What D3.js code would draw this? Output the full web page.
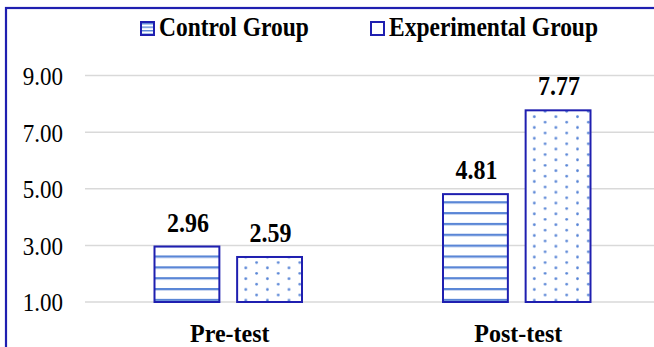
<!DOCTYPE html>
<html>
<head>
<meta charset="utf-8">
<script src="https://cdn.jsdelivr.net/npm/d3@7"></script>
<style>
  html, body { margin: 0; padding: 0; background: #fff; overflow: hidden; }
  svg { display: block; }
  text { font-family: "Liberation Serif", "Times New Roman", Times, serif; fill: #000; }
</style>
</head>
<body>
<svg id="chart" width="654" height="347"></svg>
<script>
// ---- data ----
const categories = ["Pre-test", "Post-test"];
const seriesNames = ["Control Group", "Experimental Group"];
const controlValues = [2.96, 4.81];
const experimentalValues = [2.59, 7.77];
const valueLabels = [["2.96", "2.59"], ["4.81", "7.77"]];
const yTicks = [1, 3, 5, 7, 9];
const yTickLabels = ["1.00", "3.00", "5.00", "7.00", "9.00"];

const svg = d3.select("#chart");
const BLUE = "#1f1fb0";
const FILL_BLUE = "#5a86d6";

// patterns
const defs = svg.append("defs");
const stripes = defs.append("pattern")
  .attr("id", "stripes").attr("patternUnits", "userSpaceOnUse")
  .attr("x", 0).attr("y", 5.9).attr("width", 20).attr("height", 10.85);
stripes.append("rect").attr("width", 20).attr("height", 10.85).attr("fill", "#fff");
stripes.append("rect").attr("y", 0).attr("width", 20).attr("height", 2.3).attr("fill", FILL_BLUE);

const dots = defs.append("pattern")
  .attr("id", "dots").attr("patternUnits", "userSpaceOnUse")
  .attr("x", 5.2).attr("y", 6).attr("width", 21.6).attr("height", 10.8);
dots.append("rect").attr("width", 21.6).attr("height", 10.8).attr("fill", "#fff");
dots.append("circle").attr("cx", 5.4).attr("cy", 2.7).attr("r", 1.35).attr("fill", FILL_BLUE);
dots.append("circle").attr("cx", 16.2).attr("cy", 8.1).attr("r", 1.35).attr("fill", FILL_BLUE);

const legStripes = defs.append("pattern")
  .attr("id", "legstripes").attr("patternUnits", "userSpaceOnUse")
  .attr("x", 0).attr("y", 1).attr("width", 10).attr("height", 3.5);
legStripes.append("rect").attr("width", 10).attr("height", 3.5).attr("fill", "#fff");
legStripes.append("rect").attr("y", 0).attr("width", 10).attr("height", 1.4).attr("fill", FILL_BLUE);

// frame (cropped on right/bottom)
svg.append("rect")
  .attr("x", 6).attr("y", 8).attr("width", 700).attr("height", 400)
  .attr("fill", "none").attr("stroke", BLUE).attr("stroke-width", 2.2);

// scales
const x0 = d3.scaleBand().domain(categories).range([84, 661]).padding(0);
const groupPad = 70.5;
const x1 = d3.scaleBand().domain(seriesNames)
  .range([groupPad, x0.bandwidth() - groupPad]).paddingInner(0.215);
const y = d3.scaleLinear().domain([1, 9]).range([302, 75.5]);

// gridlines
svg.append("g").selectAll("line").data(yTicks).join("line")
  .attr("x1", 85).attr("x2", 670)
  .attr("y1", d => y(d)).attr("y2", d => y(d))
  .attr("stroke", "#d9d9d9").attr("stroke-width", 1.5);

// y axis labels via d3 axis
const yAxis = d3.axisLeft(y).tickValues(yTicks)
  .tickFormat((d, i) => yTickLabels[i]).tickSize(0).tickPadding(0);
const yg = svg.append("g").attr("transform", "translate(63,0)").call(yAxis);
yg.select(".domain").remove();
yg.attr("font-family", null);
yg.selectAll("text")
  .attr("font-size", 23).attr("fill", "#000")
  .attr("dy", null).attr("dominant-baseline", "central")
  .attr("transform", "scale(1,1.1)");

// bars
const data = categories.map((c, i) => ({
  cat: c,
  vals: [
    { s: seriesNames[0], v: controlValues[i], lab: valueLabels[i][0], fill: "url(#stripes)" },
    { s: seriesNames[1], v: experimentalValues[i], lab: valueLabels[i][1], fill: "url(#dots)" }
  ]
}));

const groups = svg.append("g").selectAll("g").data(data).join("g")
  .attr("transform", d => `translate(${x0(d.cat)},0)`);

groups.selectAll("rect").data(d => d.vals).join("rect")
  .attr("x", d => x1(d.s))
  .attr("y", d => y(d.v))
  .attr("width", x1.bandwidth())
  .attr("height", d => y(1) - y(d.v))
  .attr("fill", d => d.fill)
  .attr("stroke", BLUE).attr("stroke-width", 2);

groups.selectAll("g.vlab").data(d => d.vals).join("g")
  .attr("class", "vlab")
  .attr("transform", d => `translate(${x1(d.s) + x1.bandwidth() / 2 + 1},${y(d.v) - 15}) scale(1,1.15)`)
  .append("text")
  .attr("text-anchor", "middle")
  .attr("font-size", 24).attr("font-weight", "bold")
  .text(d => d.lab);

// category labels
svg.append("g").selectAll("g").data(categories).join("g")
  .attr("transform", d => `translate(${x0(d) + x0.bandwidth() / 2 + 1.5},341.5) scale(1,1.05)`)
  .append("text")
  .attr("text-anchor", "middle")
  .attr("font-size", 24).attr("font-weight", "bold")
  .text(d => d);

// legend
const legendX = [141, 371];
const legendFills = ["url(#legstripes)", "#fff"];
const leg = svg.append("g").selectAll("g").data(seriesNames).join("g")
  .attr("transform", (d, i) => `translate(${legendX[i]},22)`);
leg.append("rect")
  .attr("x", 0).attr("y", 0).attr("width", 13).attr("height", 13)
  .attr("fill", (d, i) => legendFills[i])
  .attr("stroke", BLUE).attr("stroke-width", 2);
leg.append("g")
  .attr("transform", "translate(18,13.5) scale(1,1.18)")
  .append("text")
  .attr("font-size", 23.5).attr("font-weight", "bold")
  .text(d => d);
</script>
</body>
</html>
